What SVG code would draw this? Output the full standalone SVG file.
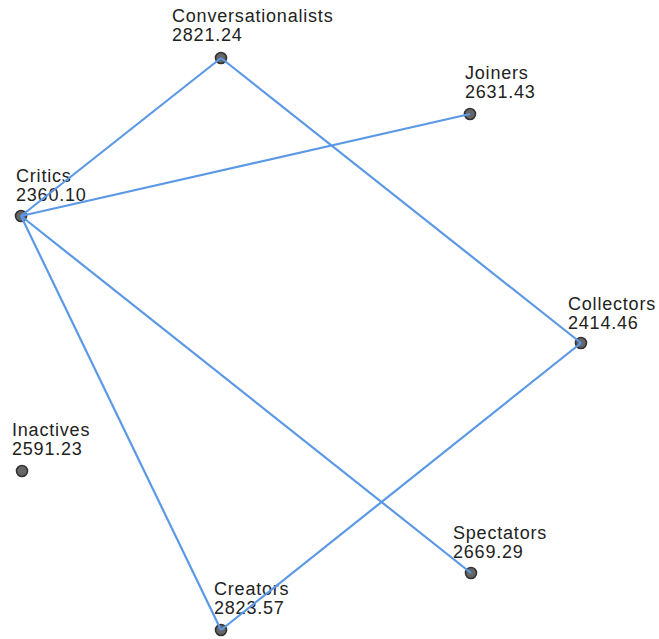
<svg xmlns="http://www.w3.org/2000/svg" width="659" height="639" viewBox="0 0 659 639">
<style>
.lbl{font-family:"Liberation Sans",Arial,sans-serif;font-size:18px;letter-spacing:0.8px;fill:#222;}
.nd{fill:#666;stroke:#333;stroke-width:1.6;}
.ed{stroke:#5b98e6;stroke-width:2.2;fill:none;}
</style>
<rect width="659" height="639" fill="#fff"/>
<g id="node-conversationalists"><circle class="nd" cx="221" cy="58" r="5.5"/><text class="lbl" x="172" y="22">Conversationalists</text><text class="lbl" x="172" y="41">2821.24</text></g>
<g id="node-joiners"><circle class="nd" cx="470" cy="114" r="5.5"/><text class="lbl" x="465" y="79">Joiners</text><text class="lbl" x="465" y="98">2631.43</text></g>
<g id="node-critics"><circle class="nd" cx="21" cy="216" r="5.5"/><text class="lbl" x="16" y="182">Critics</text><text class="lbl" x="16" y="201">2360.10</text></g>
<g id="node-collectors"><circle class="nd" cx="581" cy="343" r="5.5"/><text class="lbl" x="568" y="310">Collectors</text><text class="lbl" x="568" y="329">2414.46</text></g>
<g id="node-inactives"><circle class="nd" cx="22" cy="471" r="5.5"/><text class="lbl" x="12" y="436">Inactives</text><text class="lbl" x="12" y="455">2591.23</text></g>
<g id="node-spectators"><circle class="nd" cx="471" cy="573" r="5.5"/><text class="lbl" x="453" y="539">Spectators</text><text class="lbl" x="453" y="558">2669.29</text></g>
<g id="node-creators"><circle class="nd" cx="221" cy="630" r="5.5"/><text class="lbl" x="214" y="595">Creators</text><text class="lbl" x="214" y="614">2823.57</text></g>
<g id="connectors">
<line class="ed" x1="21" y1="216" x2="221" y2="58"/>
<line class="ed" x1="221" y1="58" x2="581" y2="343"/>
<line class="ed" x1="21" y1="216" x2="470" y2="114"/>
<line class="ed" x1="21" y1="216" x2="471" y2="573"/>
<line class="ed" x1="21" y1="216" x2="221" y2="630"/>
<line class="ed" x1="221" y1="630" x2="581" y2="343"/>
</g>
</svg>
